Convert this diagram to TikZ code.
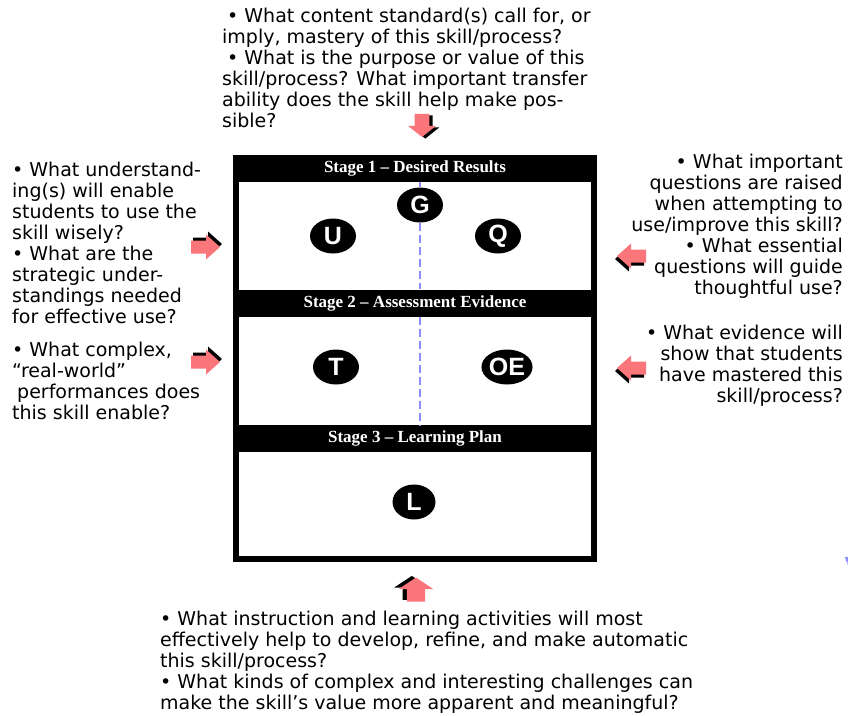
\documentclass[tikz,border=0pt]{standalone}
\usepackage{fontspec}
\setmainfont{DejaVu Sans}
\newfontfamily\headfont{Liberation Serif}
\newfontfamily\badgefont{Liberation Sans}
\usetikzlibrary{shapes.geometric}
\definecolor{arrowpink}{RGB}{250,118,122}
\definecolor{guideblue}{RGB}{140,140,255}
\tikzset{
  question/.style={inner sep=0pt,font=\fontsize{19}{21}\selectfont},
  stagebar/.style={fill=black,text=white,minimum width=364,minimum height=27,inner sep=0pt,
    font=\headfont\bfseries\fontsize{17}{20}\selectfont},
  badge/.style={ellipse,fill=black,text=white,minimum width=46,minimum height=35,inner sep=0pt,
    font=\badgefont\bfseries\fontsize{25}{25}\selectfont},
  guide/.style={guideblue,line width=1.5pt,dash pattern=on 8pt off 4pt},
  fatarrow/.pic={
    \fill[black,shift={(2,-3)}] (-14,-6.5) -- (1,-6.5) -- (1,-12.5) -- (15,0) -- (1,12.5) -- (1,6.5) -- (-14,6.5) -- cycle;
    \fill[arrowpink] (-14,-6.5) -- (1,-6.5) -- (1,-12.5) -- (15,0) -- (1,12.5) -- (1,6.5) -- (-14,6.5) -- cycle;
  }
}
\begin{document}
\begin{tikzpicture}[x=1pt,y=-1pt]
\useasboundingbox (0,0) rectangle (848,715);

\draw[line width=6pt] (236,158) rectangle (594,559);
\node[stagebar] (s1) at (415,168.5) {Stage 1 – Desired Results};
\node[stagebar] (s2) at (415,303) {Stage 2 – Assessment Evidence};
\node[stagebar] (s3) at (415,438.5) {Stage 3 – Learning Plan};

\node[badge] (G) at (420,205) {G};
\node[badge] (U) at (333,236) {U};
\node[badge] (Q) at (498,236) {Q};
\node[badge] (T) at (336,367) {T};
\node[badge,minimum width=50] (OE) at (507,367) {OE};
\node[badge,minimum width=43] (L) at (414,502) {L};

\draw[guide] (G |- s1.south) -- (G.north);
\draw[guide] (G.south) -- (G |- s2.north);
\draw[guide] (G |- s2.south) -- (G |- s3.north);

\node[question,anchor=north west,align=left] (topq) at (222,8) {\hspace*{5pt}• What content standard(s) call for, or\\imply, mastery of this skill/process?\\\hspace*{5pt}• What is the purpose or value of this\\skill/process? What important transfer\\ability does the skill help make pos-\\sible?};
\node[question,anchor=north west,align=left] (leftu) at (12,162) {• What understand-\\ing(s) will enable\\students to use the\\skill wisely?\\• What are the\\strategic under-\\standings needed\\for effective use?};
\node[question,anchor=north west,align=left] (leftt) at (12,342) {• What complex,\\“real-world”\\\hspace*{5pt}performances does\\this skill enable?};
\node[question,anchor=north east,align=right] (rightq) at (843,154) {• What important\\questions are raised\\when attempting to\\use/improve this skill?\\• What essential\\questions will guide\\thoughtful use?};
\node[question,anchor=north east,align=right] (righte) at (843,325) {• What evidence will\\show that students\\have mastered this\\skill/process?};
\node[question,anchor=north west,align=left] (botq) at (160,611) {• What instruction and learning activities will most\\effectively help to develop, refine, and make automatic\\this skill/process?\\• What kinds of complex and interesting challenges can\\make the skill’s value more apparent and meaningful?};

\pic[rotate=-90,xscale=0.8,yscale=1.12] at (422,125) {fatarrow};
\pic at (205,247) {fatarrow};
\pic at (205,362) {fatarrow};
\pic[rotate=180] at (632,256) {fatarrow};
\pic[rotate=180] at (632,368) {fatarrow};
\pic[rotate=90,xscale=0.83,yscale=1.4] at (416,590) {fatarrow};

\fill[guideblue] (845,557) -- (848,557) -- (847.5,565) -- cycle;
\end{tikzpicture}
\end{document}
